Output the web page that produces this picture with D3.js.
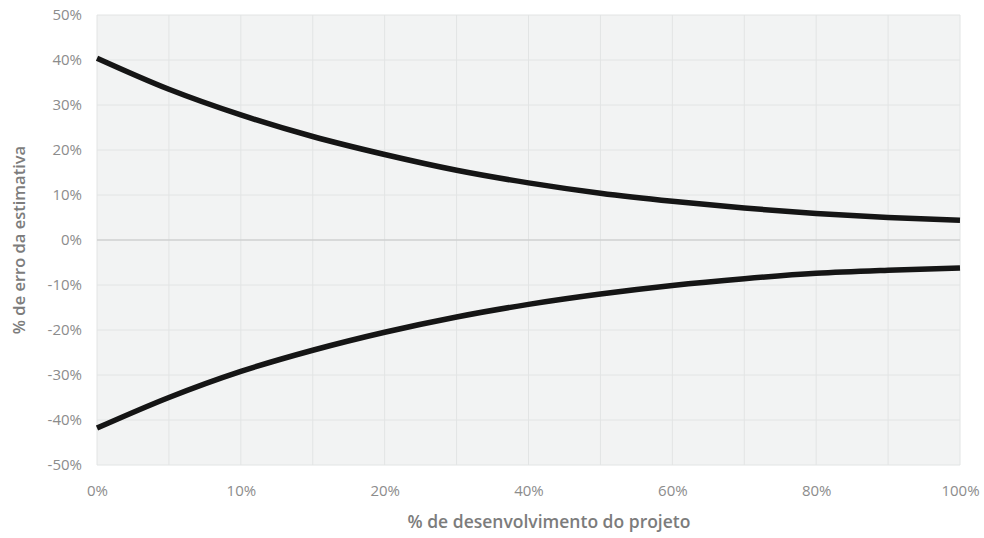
<!DOCTYPE html>
<html><head><meta charset="utf-8">
<script src="https://cdn.jsdelivr.net/npm/d3@7"></script>
<style>body{margin:0;background:#fff}svg{display:block}</style>
</head><body>
<svg id="chart" width="984" height="538"></svg>
<script>
const categories = ["0%","5%","10%","15%","20%","30%","40%","50%","60%","70%","80%","90%","100%"];
const shownLabels = ["0%","10%","20%","40%","60%","80%","100%"];
const upperValues = [0.404,0.335,0.278,0.230,0.190,0.155,0.127,0.104,0.086,0.071,0.059,0.050,0.044];
const lowerValues = [-0.418,-0.350,-0.292,-0.245,-0.205,-0.171,-0.143,-0.120,-0.101,-0.086,-0.074,-0.067,-0.062];
const yTicks = [0.5,0.4,0.3,0.2,0.1,0,-0.1,-0.2,-0.3,-0.4,-0.5];

(function () {
const svg = d3.select("#chart");
const mLeft = 97, mRight = 960, mTop = 15, mBottom = 465;
const x = d3.scalePoint().domain(categories).range([mLeft, mRight]);
const y = d3.scaleLinear().domain([-0.5, 0.5]).range([mBottom, mTop]);
const font = "'Open Sans', sans-serif";

svg.append("rect").attr("x", mLeft).attr("y", mTop).attr("width", mRight-mLeft).attr("height", mBottom-mTop).attr("fill", "#f2f3f3");

svg.append("g").selectAll("line").data(categories).join("line")
  .attr("x1", d => x(d)).attr("x2", d => x(d)).attr("y1", mTop).attr("y2", mBottom)
  .attr("stroke", "#e2e4e4").attr("stroke-width", 1);
svg.append("g").selectAll("line").data(yTicks).join("line")
  .attr("x1", mLeft).attr("x2", mRight).attr("y1", d => y(d)).attr("y2", d => y(d))
  .attr("stroke", d => d === 0 ? "#cfd1d1" : "#e2e4e4").attr("stroke-width", d => d === 0 ? 1.5 : 1);

const fmt = v => d3.format(".0%")(v).replace("\u2212", "-");
const yAxis = d3.axisLeft(y).tickValues(yTicks).tickFormat(fmt).tickSize(0).tickPadding(15);
const gy = svg.append("g").attr("transform", `translate(${mLeft},0)`).call(yAxis);
gy.select(".domain").remove();
gy.selectAll("text").attr("fill", "#8c8c8c").style("font-family", font).style("font-size", "15px");

const xAxis = d3.axisBottom(x).tickValues(shownLabels).tickSize(0).tickPadding(20);
const gx = svg.append("g").attr("transform", `translate(0,${mBottom})`).call(xAxis);
gx.select(".domain").remove();
gx.selectAll("text").attr("fill", "#8c8c8c").style("font-family", font).style("font-size", "15px");

const line = d3.line().x((d, i) => x(categories[i])).y(d => y(d)).curve(d3.curveMonotoneX);
[upperValues, lowerValues].forEach(vals => {
  svg.append("path").datum(vals).attr("d", line).attr("fill", "none")
    .attr("stroke", "#151515").attr("stroke-width", 5.5).attr("stroke-linecap", "butt");
});

svg.append("text").attr("x", 549).attr("y", 528).attr("text-anchor", "middle")
  .attr("fill", "#7c7c7c").style("font-family", font).style("font-size", "17.5px").style("font-weight", "600")
  .text("% de desenvolvimento do projeto");
svg.append("text").attr("transform", `translate(25,${(mTop+mBottom)/2}) rotate(-90)`).attr("text-anchor", "middle")
  .attr("fill", "#7c7c7c").style("font-family", font).style("font-size", "16.5px").style("font-weight", "600")
  .text("% de erro da estimativa");
})();
</script>
</body></html>
